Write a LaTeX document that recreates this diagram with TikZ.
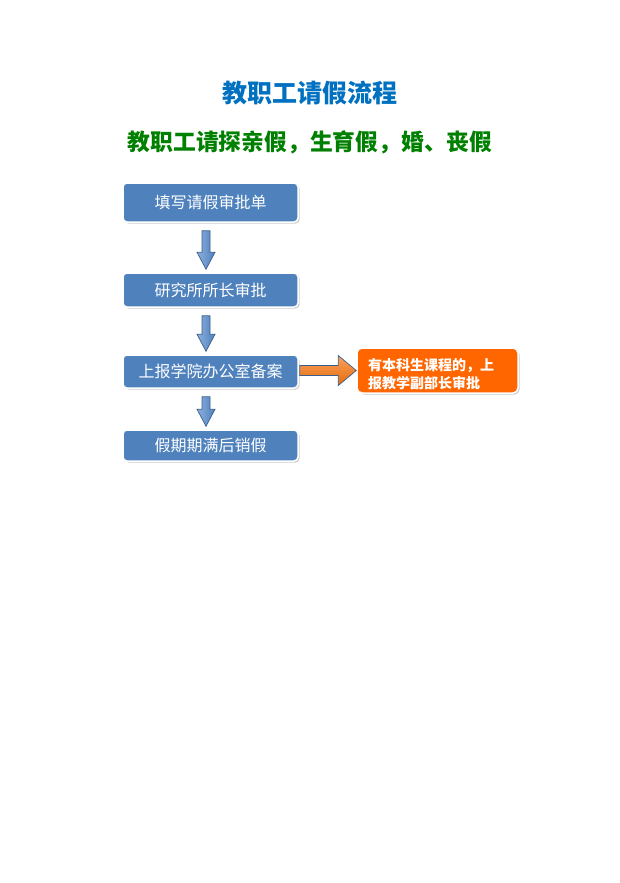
\documentclass[tikz,border=0pt]{standalone}
\usepackage{fontspec}
\setmainfont{Noto Sans CJK SC}
\usepackage{xcolor}
\usepackage{tikz}
\usetikzlibrary{calc}
\usetikzlibrary{shadows}
\definecolor{boxblue}{RGB}{79,129,189}
\definecolor{edgeblue}{RGB}{56,93,138}
\definecolor{lightblue}{RGB}{140,175,220}
\definecolor{notebrown}{RGB}{255,102,0}
\definecolor{titleblue}{RGB}{0,112,192}
\definecolor{titlegreen}{RGB}{0,128,0}
\definecolor{lightorange}{RGB}{250,160,95}
\definecolor{darkorange}{RGB}{228,108,10}
\tikzset{
    stepbox/.style={rectangle, rounded corners=4pt, fill=boxblue, draw=white, line width=1.5pt,
        text=white, minimum width=175pt, font=\fontsize{16}{19}\selectfont,
        drop shadow={shadow xshift=1.5pt, shadow yshift=-1.5pt, opacity=0.4}},
    notebox/.style={rectangle, rounded corners=5pt, fill=notebrown, draw=white, line width=1.5pt,
        text=white, inner xsep=11pt, inner ysep=1pt, minimum width=161pt, minimum height=45pt,
        font=\bfseries\fontsize{14}{18}\selectfont,
        drop shadow={shadow xshift=1.5pt, shadow yshift=-1.5pt, opacity=0.4}},
    fatdown/.style={left color=lightblue, right color=boxblue, draw=edgeblue, line width=0.7pt,
        to path={let \p1=(\tikztostart), \p2=(\tikztotarget) in
            (\x1-8.5pt,\y1-8pt) -- (\x1-0.5pt,\y1-8pt) -- (\x1-0.5pt,\y2+20pt) -- (\x1+4.5pt,\y2+20pt)
            -- (\x1-4.5pt,\y2+3pt) -- (\x1-13.5pt,\y2+20pt) -- (\x1-8.5pt,\y2+20pt) -- cycle}},
    fatright/.style={top color=lightorange, bottom color=darkorange, draw=edgeblue, line width=0.7pt,
        to path={let \p1=(\tikztostart), \p2=(\tikztotarget) in
            (\x1+1pt,\y1+6pt) -- (\x2-18pt,\y1+6pt) -- (\x2-18pt,\y1+16pt) -- (\x2,\y1+1pt)
            -- (\x2-18pt,\y1-14pt) -- (\x2-18pt,\y1-4pt) -- (\x1+1pt,\y1-4pt) -- cycle}}
}

\begin{document}
\begin{tikzpicture}[x=1pt, y=-1pt]
        \useasboundingbox (0, 0) rectangle (620, 883);

        \node[text=titleblue, font=\bfseries\fontsize{25}{30}\selectfont] (title) at (310, 93) {教职工请假流程};
        \node[text=titlegreen, font=\bfseries\fontsize{22.8}{28}\selectfont] (subtitle) at (310, 142) {教职工请探亲假，生育假，婚、丧假};

        \node[stepbox, minimum height=39pt] (fill) at (210.5, 202.5) {填写请假审批单};
        \node[stepbox, minimum height=34pt] (head) at (210.5, 290) {研究所所长审批};
        \node[stepbox, minimum height=33pt] (office) at (210.5, 371.5) {上报学院办公室备案};
        \node[stepbox, minimum height=31pt] (cancel) at (210.5, 445.5) {假期期满后销假};

        \node[notebox] (dean) at (437.5, 370.5)
            {\parbox[c][38pt][b]{139pt}{\raggedright 有本科生课程的，上\\报教学副部长审批}};

        \shadedraw[fatdown] (fill.south) to (head.north);
        \shadedraw[fatdown] (head.south) to (office.north);
        \shadedraw[fatdown] (office.south) to (cancel.north);
        \shadedraw[fatright] (office.east) to (dean.west);
\end{tikzpicture}
\end{document}
